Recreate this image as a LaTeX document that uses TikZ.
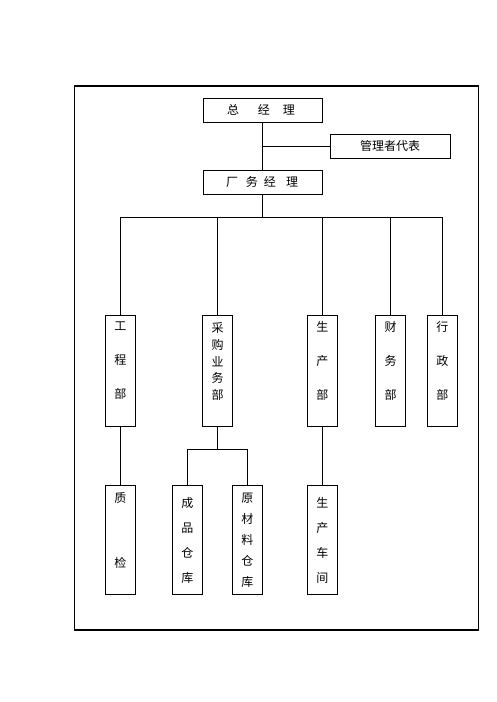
\documentclass[tikz,border=0pt]{standalone}
\usepackage{fontspec}
\newfontfamily\cjk{Noto Sans CJK SC}
\tikzset{
  box/.style={draw, line width=0.8pt, inner sep=0pt},
  hbox/.style={box, minimum width=119pt, minimum height=24pt},
  vbox/.style={box, minimum width=30pt},
  txt/.style={inner sep=0pt, align=center, font=\cjk\fontsize{12}{12}\selectfont},
  conn/.style={line width=0.8pt}
}
\begin{document}
\begin{tikzpicture}[x=1pt,y=-1pt]
\useasboundingbox (0,0) rectangle (496,702);
\draw[line width=1.2pt] (74.5,86) rectangle (478.5,630);
% top boxes
\node[hbox] (gm) at (262.5,110) {};
\node[hbox, minimum width=120pt] (rep) at (390,146) {};
\node[hbox] (fm) at (262.5,182) {};
\node[txt] (tgm) at (261,110) {总\hspace{19pt}经\hspace{13pt}理};
\node[txt] (trep) at (390,146) {管理者代表};
\node[txt] (tfm) at (262,182) {厂\hspace{8pt}务\hspace{6pt}经\hspace{10pt}理};
% row 2
\node[vbox, minimum height=111pt] (eng) at (120.3,370.5) {};
\node[vbox, minimum height=111pt] (pur) at (217.7,370.5) {};
\node[vbox, minimum height=111pt] (pro) at (322.3,370.5) {};
\node[vbox, minimum height=111pt] (fin) at (390.5,370.5) {};
\node[vbox, minimum height=111pt] (adm) at (442.3,370.5) {};
\node[txt] (teng) at (120.3,361) {工\\[22pt]程\\[22pt]部};
\node[txt] (tpur) at (217.7,361.5) {采\\[4.7pt]购\\[4.7pt]业\\[4.7pt]务\\[4.7pt]部};
\node[txt] (tpro) at (322.3,361) {生\\[22pt]产\\[22pt]部};
\node[txt] (tfin) at (390.5,361) {财\\[22pt]务\\[22pt]部};
\node[txt] (tadm) at (442.3,361) {行\\[22pt]政\\[22pt]部};
% row 3
\node[vbox, minimum height=109pt] (qc) at (120.3,539.7) {};
\node[vbox, minimum height=109pt] (fg) at (187.3,539.7) {};
\node[vbox, minimum height=109pt] (raw) at (247.3,539.7) {};
\node[vbox, minimum height=109pt] (ws) at (322.3,539.7) {};
\node[txt] (tqc) at (120.3,530.5) {质\\[53pt]检};
\node[txt] (tfg) at (187.3,540.5) {成\\[13pt]品\\[13pt]仓\\[13pt]库};
\node[txt] (traw) at (247.3,540.5) {原\\[9pt]材\\[9pt]料\\[9pt]仓\\[9pt]库};
\node[txt] (tws) at (322.3,540.5) {生\\[13pt]产\\[13pt]车\\[13pt]间};
% connectors
\coordinate (bus) at (262.5,217.3);
\coordinate (pb) at (217.7,449);
\draw[conn] (gm.south) -- (fm.north);
\draw[conn] (gm.south |- rep.west) -- (rep.west);
\draw[conn] (fm.south) -- (bus);
\draw[conn] (eng.north) |- (bus);
\draw[conn] (pur.north) |- (bus);
\draw[conn] (pro.north) |- (bus);
\draw[conn] (fin.north) |- (bus);
\draw[conn] (adm.north) |- (bus);
\draw[conn] (eng.south) -- (qc.north);
\draw[conn] (pur.south) -- (pb);
\draw[conn] (fg.north) |- (pb);
\draw[conn] (raw.north) |- (pb);
\draw[conn] (pro.south) -- (ws.north);
\end{tikzpicture}
\end{document}
